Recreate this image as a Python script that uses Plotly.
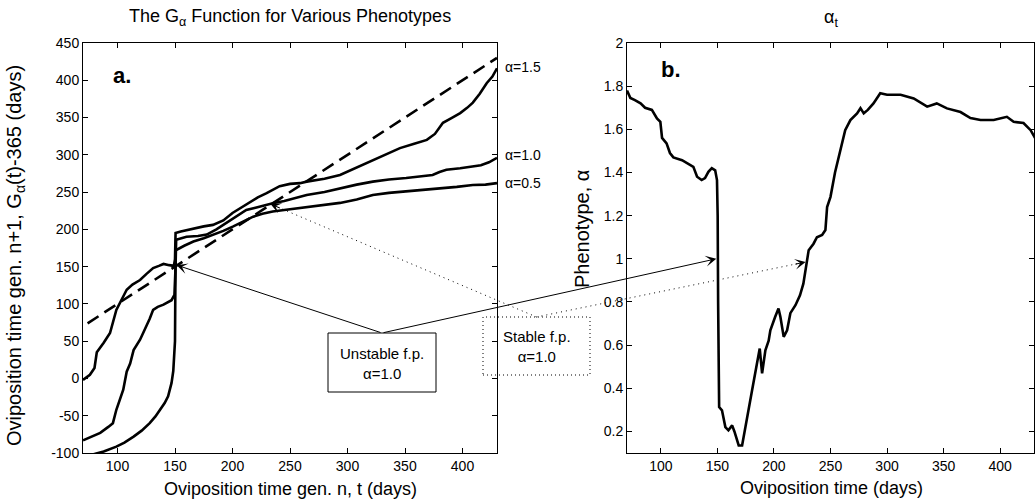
import plotly.graph_objects as go

W, H = 1036, 502

# ---------------- Panel a: G_alpha functions ----------------
t_a15 = [70, 76, 80, 82, 88, 93.5, 99, 104, 108, 113, 119.6, 125, 131, 136, 140, 145, 149, 150, 150.5,
         155, 165.6, 175, 183, 192, 200, 207, 215, 222, 229.7, 236, 241, 250, 258.7, 264.5, 280, 293.5,
         308, 322, 335, 345.6, 358, 369, 376, 383, 390, 398, 404, 409, 415, 421, 426, 430]
g_a15 = [-2, 5, 14, 35, 48, 61, 92, 108, 119, 126, 132, 140, 148, 151, 153.6, 152, 151, 160, 195,
         197, 201, 204, 206, 212, 222, 229, 237, 243, 248.6, 254, 258, 261, 262, 264, 268, 273,
         283, 293, 302, 309, 315, 320, 328, 343, 349, 356, 363, 370, 382, 396, 405, 416]

t_a10 = [70, 78, 85, 92, 96, 99, 102, 105, 108, 111, 114, 117, 119.6, 122, 125, 128, 131, 135, 140, 144,
         147, 149.5, 150, 150.5, 151, 155, 160, 170, 177.6, 186, 195, 204, 212, 220, 229.7, 235, 245,
         255, 264.5, 280, 293.5, 308, 322, 336, 351, 362, 374, 380, 386, 398, 409, 416, 423, 430]
g_a10 = [-83, -78, -73, -65, -60, -42, -28, -15, 9, 20, 38, 45, 52, 60, 69.5, 80, 92, 96, 99, 102,
         105, 112, 125, 150, 186, 188, 190, 191, 193, 200, 209, 218, 226, 229, 233, 235, 238,
         242, 246, 250, 255, 260, 264, 267, 269, 271, 273, 277, 280, 282, 284, 286, 290, 296]

t_a05 = [76, 88, 99, 106, 114, 121, 128, 133, 137, 141, 144, 147, 148.5, 149.5, 150, 150.3, 150.6, 158,
         166, 175, 183, 192, 200.7, 210, 218, 226, 235, 245, 255, 264.5, 280, 293.5, 308, 322, 336,
         351.5, 366, 380, 395, 409, 420, 430]
g_a05 = [-103, -98, -91.5, -86, -78, -70, -60, -51, -42, -33, -24, -6, 10, 30, 50, 120, 172, 178,
         183.6, 188, 192.6, 198, 204, 211, 217, 221, 224, 226, 228, 229, 232, 235.5, 240, 246, 249,
         251, 253, 255, 257, 259.5, 260, 262]

ident_t = [74, 430]
ident_g = [74, 430]

curve_labels = ["α=1.5", "α=1.0", "α=0.5"]
curve_label_y = [418, 300, 262]

# ---------------- Panel b: alpha_t ----------------
t_b = [70, 73, 77, 82, 86, 92, 96.5, 99.5, 101, 105, 108, 111, 118.7, 123, 128.7, 132, 136, 139, 142, 145,
       148, 149.6, 150.2, 150.6, 151, 151.5, 154, 157, 159.7, 163, 165, 168.8, 171.8, 176, 180.6, 185,
       187.4, 189.5, 192.4, 195.3, 196.8, 201, 204, 205.7, 208.6, 211.6, 214.5, 219, 223, 226, 229,
       230.7, 235, 238, 242.6, 245.5, 247, 250, 254, 258.8, 263, 267.6, 273.5, 276.5, 279.4, 283, 288,
       294, 300, 312, 323.6, 335.5, 344, 353, 365, 373.8, 382.7, 394.4, 406, 412, 420.7, 427, 432]
alpha_b = [1.78, 1.745, 1.735, 1.72, 1.70, 1.69, 1.65, 1.635, 1.56, 1.535, 1.49, 1.47, 1.457, 1.443, 1.426,
           1.38, 1.365, 1.374, 1.403, 1.42, 1.41, 1.365, 1.2, 0.8, 0.5, 0.313, 0.298, 0.22, 0.205, 0.228,
           0.2, 0.135, 0.135, 0.25, 0.39, 0.516, 0.584, 0.469, 0.576, 0.62, 0.669, 0.73, 0.77, 0.73, 0.638,
           0.669, 0.748, 0.785, 0.831, 0.885, 0.993, 1.04, 1.07, 1.10, 1.11, 1.133, 1.24, 1.287, 1.40, 1.50,
           1.596, 1.643, 1.674, 1.698, 1.674, 1.69, 1.72, 1.767, 1.76, 1.76, 1.743, 1.705, 1.72, 1.697,
           1.68, 1.652, 1.643, 1.643, 1.658, 1.635, 1.629, 1.596, 1.55]

# ticks
xa_ticks = [100, 150, 200, 250, 300, 350, 400]
ya_ticks = [-100, -50, 0, 50, 100, 150, 200, 250, 300, 350, 400, 450]
ya_labels = [str(v) for v in ya_ticks]
xb_ticks = [100, 150, 200, 250, 300, 350, 400]
yb_ticks = [0.2, 0.4, 0.6, 0.8, 1.0, 1.2, 1.4, 1.6, 1.8, 2.0]
yb_labels = ["0.2", "0.4", "0.6", "0.8", "1", "1.2", "1.4", "1.6", "1.8", "2"]

# fixed points marked with arrows
unstable_fp_a = (151.5, 152)
stable_fp_a = (233, 234)
unstable_fp_b = (149, 1.0)
stable_fp_b = (228, 0.985)

# ---------------- geometry ----------------
XA_R, YA_R = [70, 430], [-100, 450]
XB_R, YB_R = [70, 430], [0.1, 2]
XA_D = [83 / W, 497 / W]
XB_D = [627 / W, 1034 / W]
Y_D = [1 - 453 / H, 1 - 43 / H]
FONT = "Liberation Sans, Arial, Helvetica, sans-serif"


def px(x):
    return x / W


def py(y):
    return 1 - y / H


def to_paper(x, y, xr, yr, xd, yd):
    return (xd[0] + (x - xr[0]) / (xr[1] - xr[0]) * (xd[1] - xd[0]),
            yd[0] + (y - yr[0]) / (yr[1] - yr[0]) * (yd[1] - yd[0]))


def from_paper(fx, fy, xr, yr, xd, yd):
    return (xr[0] + (fx - xd[0]) / (xd[1] - xd[0]) * (xr[1] - xr[0]),
            yr[0] + (fy - yd[0]) / (yd[1] - yd[0]) * (yr[1] - yr[0]))


fig = go.Figure()
line_style = dict(color="black", width=2.6)
for tt, gg in [(t_a15, g_a15), (t_a10, g_a10), (t_a05, g_a05)]:
    fig.add_trace(go.Scatter(x=tt, y=gg, mode="lines", line=line_style, xaxis="x", yaxis="y",
                             showlegend=False, hoverinfo="skip"))
fig.add_trace(go.Scatter(x=ident_t, y=ident_g, mode="lines",
                         line=dict(color="black", width=2.6, dash="13px,7px"),
                         xaxis="x", yaxis="y", showlegend=False, hoverinfo="skip"))
fig.add_trace(go.Scatter(x=t_b, y=alpha_b, mode="lines", line=line_style, xaxis="x2", yaxis="y2",
                         showlegend=False, hoverinfo="skip"))

axis_common = dict(ticks="inside", ticklen=5, tickcolor="black", showline=True, linecolor="black",
                   linewidth=1, mirror="ticks", showgrid=False, zeroline=False, automargin=False,
                   tickfont=dict(family=FONT, size=14, color="black"))

fig.update_layout(
    width=W, height=H, margin=dict(l=0, r=0, t=0, b=0, pad=0),
    paper_bgcolor="white", plot_bgcolor="white", showlegend=False,
    font=dict(family=FONT, color="black"),
    xaxis=dict(domain=XA_D, range=XA_R, tickvals=xa_ticks, anchor="y", **axis_common),
    yaxis=dict(domain=Y_D, range=YA_R, tickvals=ya_ticks, ticktext=ya_labels, anchor="x", **axis_common),
    xaxis2=dict(domain=XB_D, range=XB_R, tickvals=xb_ticks, anchor="y2", **axis_common),
    yaxis2=dict(domain=Y_D, range=YB_R, tickvals=yb_ticks, ticktext=yb_labels, anchor="x2", **axis_common),
)

ann = []


def text(x, y, s, size=14, **kw):
    d = dict(x=x, y=y, xref="paper", yref="paper", text=s, showarrow=False,
             xanchor="center", yanchor="middle",
             font=dict(family=FONT, size=size, color="black"))
    d.update(kw)
    ann.append(d)


# titles and axis titles
text(px(290), py(18), "The G<sub>α</sub> Function for Various Phenotypes", 18)
text(px(831), py(19), "α<sub>t</sub>", 18)
text(px(290), py(489), "Oviposition time gen. n, t (days)", 18)
text(px(831), py(488), "Oviposition time (days)", 18)
text(px(15), py(256), "Oviposition time gen. n+1, G<sub>α</sub>(t)-365 (days)", 20, textangle=-90)
text(px(582), py(229), "Phenotype, α", 20, textangle=-90)

# panel letters
ann.append(dict(x=104, y=407, xref="x", yref="y", text="<b>a.</b>", showarrow=False,
                font=dict(family=FONT, size=22, color="black")))
ann.append(dict(x=109, y=1.875, xref="x2", yref="y2", text="<b>b.</b>", showarrow=False,
                font=dict(family=FONT, size=22, color="black")))

# curve labels
for lab, yy in zip(curve_labels, curve_label_y):
    ann.append(dict(x=430, y=yy, xref="x", yref="y", text=lab, showarrow=False, xanchor="left",
                    yanchor="middle", xshift=6, font=dict(family=FONT, size=14, color="black")))

# boxes
ub = (328, 333, 436, 392)   # unstable box (pixels)
sb = (483, 317, 590, 375)   # stable box (pixels)
shapes = [
    dict(type="rect", xref="paper", yref="paper", x0=px(ub[0]), x1=px(ub[2]), y0=py(ub[3]), y1=py(ub[1]),
         line=dict(color="black", width=1), layer="above"),
    dict(type="rect", xref="paper", yref="paper", x0=px(sb[0]), x1=px(sb[2]), y0=py(sb[3]), y1=py(sb[1]),
         line=dict(color="black", width=1, dash="1px,3px"), layer="above"),
]
text(px((ub[0] + ub[2]) / 2), py((ub[1] + ub[3]) / 2 + 1), "Unstable f.p.<br>α=1.0", 15)
text(px((sb[0] + sb[2]) / 2), py((sb[1] + sb[3]) / 2), "Stable f.p.<br>α=1.0", 15)

# solid arrows from unstable box
u_top = (px((ub[0] + ub[2]) / 2), py(ub[1]))
ta = from_paper(u_top[0], u_top[1], XA_R, YA_R, XA_D, Y_D)
tb = from_paper(u_top[0], u_top[1], XB_R, YB_R, XB_D, Y_D)
arrow_kw = dict(showarrow=True, text="", arrowhead=3, arrowsize=1.8, arrowwidth=1, arrowcolor="black",
                standoff=0)
ann.append(dict(x=unstable_fp_a[0], y=unstable_fp_a[1], xref="x", yref="y", axref="x", ayref="y",
                ax=ta[0], ay=ta[1], **arrow_kw))
ann.append(dict(x=unstable_fp_b[0], y=unstable_fp_b[1], xref="x2", yref="y2", axref="x2", ayref="y2",
                ax=tb[0], ay=tb[1], **arrow_kw))

# dotted arrows from stable box
s_top = (px((sb[0] + sb[2]) / 2), py(sb[1]))
for fp, xr, yr, xd, xref, yref in [(stable_fp_a, XA_R, YA_R, XA_D, "x", "y"),
                                   (stable_fp_b, XB_R, YB_R, XB_D, "x2", "y2")]:
    tip = to_paper(fp[0], fp[1], xr, yr, xd, Y_D)
    shapes.append(dict(type="line", xref="paper", yref="paper", x0=s_top[0], y0=s_top[1],
                       x1=tip[0], y1=tip[1], line=dict(color="black", width=1, dash="1px,4px"),
                       layer="above"))
    dxp = (s_top[0] - tip[0]) * W
    dyp = -(s_top[1] - tip[1]) * H
    n = (dxp ** 2 + dyp ** 2) ** 0.5
    ann.append(dict(x=fp[0], y=fp[1], xref=xref, yref=yref, ax=12 * dxp / n, ay=12 * dyp / n,
                    **arrow_kw))

fig.update_layout(annotations=ann, shapes=shapes)
fig.write_html("out.html", config={"displayModeBar": False},
               post_script="document.body.style.margin='0';document.body.style.overflow='hidden';")
